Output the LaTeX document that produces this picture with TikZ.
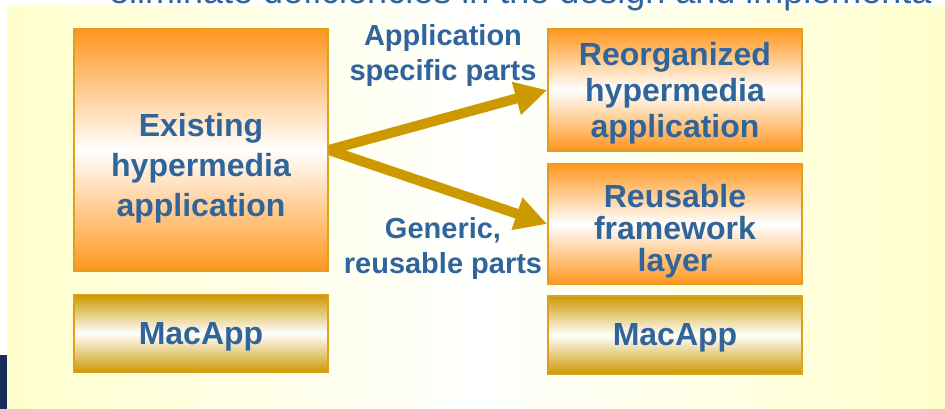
\documentclass[tikz,border=0pt]{standalone}
\usepackage{fontspec}
\setmainfont{Liberation Sans}
\usetikzlibrary{arrows.meta,positioning}
\definecolor{Cream}{HTML}{FFFFCC}
\definecolor{Navy}{HTML}{1B2A5C}
\definecolor{Ink}{HTML}{30659B}
\definecolor{Tangerine}{HTML}{FF961E}
\definecolor{Gold}{HTML}{CC9900}
\definecolor{Rim}{HTML}{DDA020}
\newcommand{\dropby}[1]{\rule{0pt}{#1}}
\pgfdeclarelayer{back}
\pgfdeclarelayer{mid}
\pgfsetlayers{back,mid,main}
\tikzset{
  appbox/.style={draw=Rim,line width=1.5pt,top color=Tangerine,bottom color=Tangerine,middle color=white,minimum width=254pt,align=center,font=\fontsize{32}{37}\selectfont\bfseries,text=Ink,inner sep=0pt},
  basebox/.style={appbox,top color=Gold,bottom color=Gold,middle color=white,minimum height=78pt},
  lbl/.style={align=center,font=\fontsize{29}{35}\selectfont\bfseries,text=Ink,inner sep=0pt},
  fork/.style={draw=Gold,line width=10pt,line join=miter,{Triangle[length=32pt,width=32pt]}-{Triangle[length=32pt,width=32pt]}}
}
\begin{document}
\begin{tikzpicture}[x=1pt,y=-1pt]
  \useasboundingbox (0,0) rectangle (945,409);
  \clip (0,0) rectangle (945,409);
  \begin{pgfonlayer}{back}
    \shade[left color=Cream,right color=Cream,middle color=white] (7,6) rectangle (945,409);
    \fill[Navy] (0,355) rectangle (7,409);
  \end{pgfonlayer}
  \node[anchor=base west,font=\fontsize{36}{40}\selectfont,text=Ink,inner sep=0pt] (heading) at (109,4) {eliminate deficiencies in the design and implementa};
  % old application on top of the framework
  \node[appbox,minimum height=242pt,font=\fontsize{32}{40}\selectfont\bfseries] (exist) at (201,150) {\dropby{59pt}Existing\\hypermedia\\application};
  \node[basebox,below=22pt of exist] (macleft) {\dropby{28pt}MacApp};
  % after the split
  \node[appbox,minimum height=122pt,font=\fontsize{32}{36}\selectfont\bfseries] (reorg) at (675,90) {\dropby{29pt}Reorganized\\hypermedia\\application};
  \node[appbox,minimum height=121pt,below=11pt of reorg,font=\fontsize{32}{32}\selectfont\bfseries] (reuse) {\dropby{37pt}Reusable\\framework\\layer};
  \node[basebox,below=10pt of reuse] (macright) {\dropby{28pt}MacApp};
  \node[lbl] (specific) at (443,56) {Application\\specific parts};
  \node[lbl] (generic) at (443,249) {Generic,\\reusable parts};
  \begin{pgfonlayer}{mid}
    \draw[fork] (reorg.west) -- (exist.east) -- (reuse.west);
  \end{pgfonlayer}
\end{tikzpicture}
\end{document}
